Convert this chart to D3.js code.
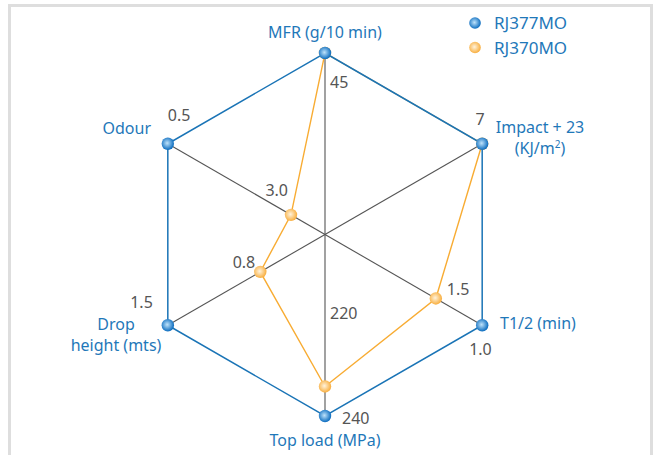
<!DOCTYPE html>
<html>
<head>
  <meta charset="utf-8">
  <script src="https://d3js.org/d3.v7.min.js"></script>
  <style>
    body { margin: 0; background: #fff; font-family: 'Noto Sans', sans-serif; }
    .axis-title { fill: #1f78b9; font-size: 16px; }
    .value-label { fill: #555; font-size: 16px; }
    .legend-text { fill: #1f78b9; font-size: 17px; }
  </style>
</head>
<body>
<script>
  // axes, clockwise from the top
  var axes = ["MFR", "Impact", "T1/2", "Top load", "Drop", "Odour"];
  // value at the centre and at the rim of each axis
  var axisInner = [0, 0, 2.695, 117, 0.31, 3.69];
  var axisOuter = [45, 7, 1.0, 240, 1.5, 0.5];

  var seriesNames = ["RJ377MO", "RJ370MO"];
  var rj377mo = [45, 7, 1.0, 240, 1.5, 0.5];
  var rj370mo = [45, 7, 1.5, 220, 0.8, 3.0];

  // printed value labels
  var labels377 = ["45", "7", "1.0", "240", "1.5", "0.5"];
  var labels370 = ["", "", "1.5", "220", "0.8", "3.0"];

  var width = 662, height = 455;
  var cx = 325, cy = 234.5, R = 181.5;

  var svg = d3.select("body").append("svg")
      .attr("width", width)
      .attr("height", height);

  // light frame
  svg.append("rect")
      .attr("x", 9.5).attr("y", 5.5)
      .attr("width", 642).attr("height", 470)
      .attr("fill", "none")
      .attr("stroke", "#dedede")
      .attr("stroke-width", 3);

  var defs = svg.append("defs");
  function ball(id, light, dark) {
    var g = defs.append("radialGradient").attr("id", id)
        .attr("cx", "45%").attr("cy", "45%").attr("r", "55%");
    g.append("stop").attr("offset", "0%").attr("stop-color", light);
    g.append("stop").attr("offset", "100%").attr("stop-color", dark);
  }
  ball("blueBall", "#bfe3fb", "#0b6cbf");
  ball("orangeBall", "#fff3dc", "#f8ae3e");

  var scales = axes.map(function (a, i) {
    return d3.scaleLinear().domain([axisInner[i], axisOuter[i]]).range([0, R]);
  });
  var angle = d3.scaleLinear().domain([0, axes.length]).range([0, 2 * Math.PI]);

  function pos(i, v) {
    var r = scales[i](v), a = angle(i);
    return [cx + r * Math.sin(a), cy - r * Math.cos(a)];
  }

  var rim377 = rj377mo.map(function (v, i) { return pos(i, v); });
  var pts370 = rj370mo.map(function (v, i) { return pos(i, v); });

  // spokes
  svg.append("g").selectAll("line")
    .data(axes)
    .enter().append("line")
      .attr("x1", cx).attr("y1", cy)
      .attr("x2", function (d, i) { return pos(i, axisOuter[i])[0]; })
      .attr("y2", function (d, i) { return pos(i, axisOuter[i])[1]; })
      .attr("stroke", "#555")
      .attr("stroke-width", 1.1);

  var line = d3.line().curve(d3.curveLinearClosed);

  svg.append("path")
      .attr("d", line(pts370))
      .attr("fill", "none")
      .attr("stroke", "#f8ac33")
      .attr("stroke-width", 1.4);

  svg.append("path")
      .attr("d", line(rim377))
      .attr("fill", "none")
      .attr("stroke", "#1a74b6")
      .attr("stroke-width", 1.5);

  svg.append("g").selectAll("circle")
    .data(pts370)
    .enter().append("circle")
      .attr("cx", function (d) { return d[0]; })
      .attr("cy", function (d) { return d[1]; })
      .attr("r", 6.2)
      .attr("fill", "url(#orangeBall)");

  svg.append("g").selectAll("circle")
    .data(rim377)
    .enter().append("circle")
      .attr("cx", function (d) { return d[0]; })
      .attr("cy", function (d) { return d[1]; })
      .attr("r", 6.2)
      .attr("fill", "url(#blueBall)");

  // value labels: offset from their point [dx, dy, anchor]
  var off377 = [[5, 35, "start"], [-2, -19, "middle"], [-13, 30, "start"],
                [17, 8, "start"], [-15, -17, "end"], [0, -23, "start"]];
  var off370 = [null, null, [11, -3, "start"], [5, -67, "start"],
                [-5, -4, "end"], [-3, -19, "end"]];

  function valueLabels(pts, txt, off) {
    var items = [];
    pts.forEach(function (d, i) {
      if (txt[i] !== "") items.push({ p: d, t: txt[i], o: off[i] });
    });
    svg.append("g").selectAll("text")
      .data(items)
      .enter().append("text")
        .attr("class", "value-label")
        .attr("x", function (d) { return d.p[0] + d.o[0]; })
        .attr("y", function (d) { return d.p[1] + d.o[1]; })
        .attr("text-anchor", function (d) { return d.o[2]; })
        .text(function (d) { return d.t; });
  }
  valueLabels(rim377, labels377, off377);
  valueLabels(pts370, labels370, off370);

  // axis titles
  var titles = [
    { lines: ["MFR (g/10 min)"], x: 325, y: 38, anchor: "middle" },
    { lines: ["Impact + 23", "(KJ/m²)"], x: 540, y: 133, anchor: "middle" },
    { lines: ["T1/2 (min)"], x: 500, y: 329, anchor: "start" },
    { lines: ["Top load (MPa)"], x: 325, y: 446, anchor: "middle" },
    { lines: ["Drop", "height (mts)"], x: 116, y: 330, anchor: "middle" },
    { lines: ["Odour"], x: 151, y: 134, anchor: "end" }
  ];
  titles.forEach(function (t) {
    var el = svg.append("text")
        .attr("class", "axis-title")
        .attr("x", t.x).attr("y", t.y)
        .attr("text-anchor", t.anchor);
    t.lines.forEach(function (l, k) {
      var ts = el.append("tspan").attr("x", t.x).attr("dy", k === 0 ? 0 : 21);
      if (l.indexOf("²") >= 0) {
        ts.text("(KJ/m");
        ts.append("tspan").attr("dy", -6).attr("font-size", "10px").text("2");
        ts.append("tspan").attr("dy", 6).text(")");
      } else {
        ts.text(l);
      }
    });
  });

  // legend
  var legend = svg.append("g").attr("transform", "translate(475,23)");
  legend.selectAll("circle")
    .data(seriesNames)
    .enter().append("circle")
      .attr("cx", 0)
      .attr("cy", function (d, i) { return i * 24.5; })
      .attr("r", 5.8)
      .attr("fill", function (d, i) { return i === 0 ? "url(#blueBall)" : "url(#orangeBall)"; });
  legend.selectAll("text")
    .data(seriesNames)
    .enter().append("text")
      .attr("class", "legend-text")
      .attr("x", 19)
      .attr("y", function (d, i) { return i * 24.5 + 6; })
      .text(function (d) { return d; });
</script>
</body>
</html>
